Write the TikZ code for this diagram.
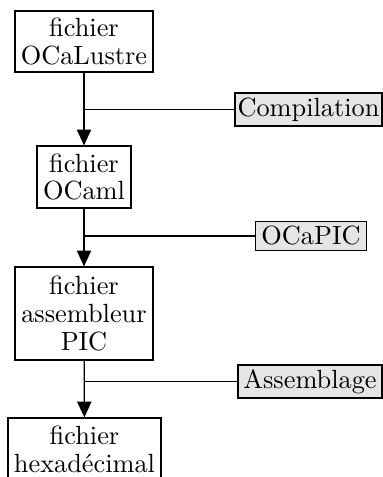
\documentclass[tikz,border=0pt]{standalone}
\usetikzlibrary{arrows.meta}
\begin{document}
\begin{tikzpicture}[x=0.38pt,y=-0.38pt,
  filebox/.style={draw, line width=0.45pt, align=center, inner sep=0pt,
    font=\fontsize{10}{10.6}\selectfont},
  toolbox/.style={draw, line width=0.45pt, fill=black!10, inner sep=0pt,
    font=\fontsize{10}{10.6}\selectfont},
  flow/.style={line width=0.45pt, -{Triangle[length=6pt,width=5.4pt]}},
  link/.style={line width=0.45pt}]
\useasboundingbox (0,0) rectangle (383,477);
\clip (0,0) rectangle (383,477);
\node[filebox, minimum width=138*0.38pt, minimum height=61*0.38pt] (f1) at (84,41.5) {fichier\\OCaLustre};
\node[filebox, minimum width=94*0.38pt, minimum height=62*0.38pt] (f2) at (84,177) {fichier\\OCaml};
\node[filebox, minimum width=138*0.38pt, minimum height=93*0.38pt] (f3) at (84,313.5) {fichier\\assembleur\\PIC};
\node[filebox, minimum width=153*0.38pt, minimum height=62*0.38pt] (f4) at (84.5,449) {fichier\\hexad\'ecimal};
\node[toolbox, minimum width=147*0.38pt, minimum height=33*0.38pt] (t1) at (308.5,109.5) {Compilation};
\node[toolbox, minimum width=111*0.38pt, minimum height=29*0.38pt] (t2) at (311,236) {OCaPIC};
\node[toolbox, minimum width=144*0.38pt, minimum height=33*0.38pt] (t3) at (310,381.5) {Assemblage};
\draw[flow] (f1) -- (f2);
\draw[flow] (f2) -- (f3);
\draw[flow] (f3) -- (f4);
\coordinate (j1) at (f1 |- t1.west);
\coordinate (j2) at (f2 |- t2.west);
\coordinate (j3) at (f3 |- t3.west);
\draw[link] (j1) -- (t1.west);
\draw[link] (j2) -- (t2.west);
\draw[link] (j3) -- (t3.west);
\end{tikzpicture}
\end{document}
